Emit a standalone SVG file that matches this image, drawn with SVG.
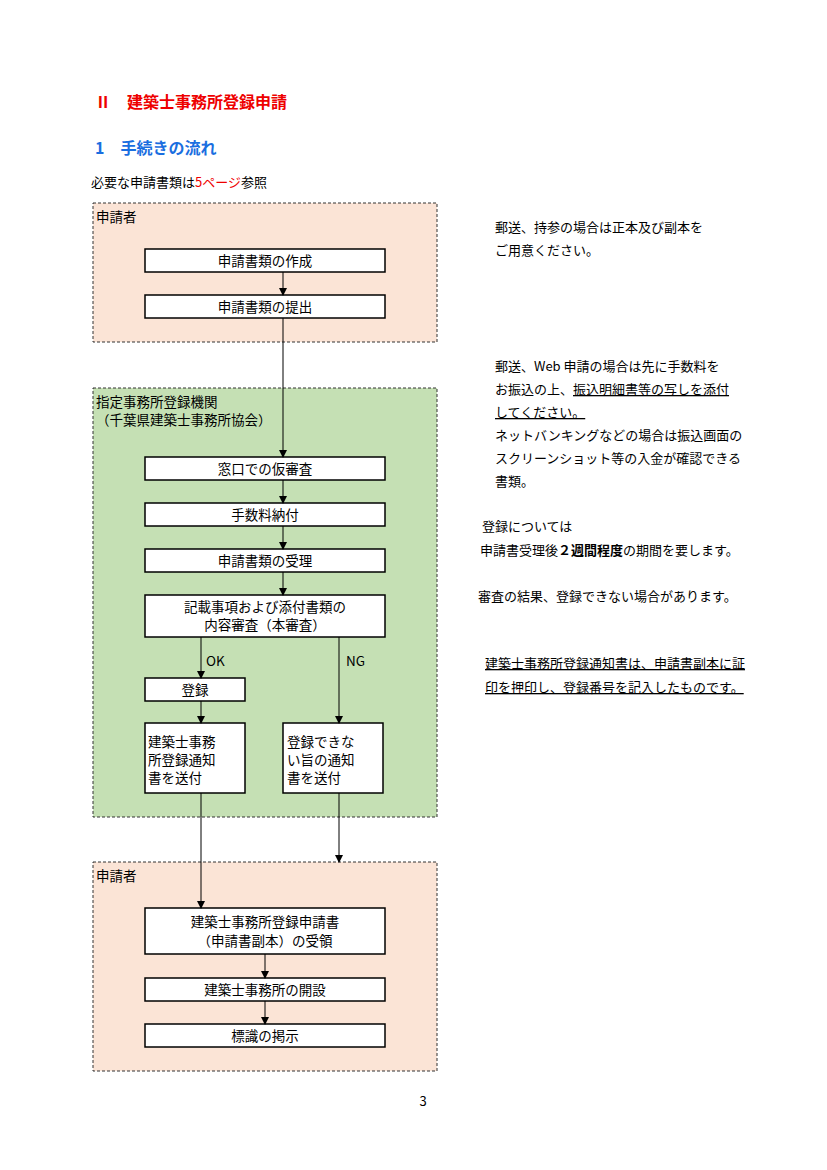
<svg xmlns="http://www.w3.org/2000/svg" width="827" height="1170" viewBox="0 0 827 1170">
<style>
.g{font-family:"Noto Sans CJK JP","Liberation Sans",sans-serif}
.m{font-family:"Noto Sans CJK JP",serif;font-size:13px;fill:#000}
.bx{fill:#fff;stroke:#000;stroke-width:1.5}
.t{font-family:"Noto Sans CJK JP",sans-serif;font-size:13.5px;fill:#000;text-anchor:middle}
.tl{font-family:"Noto Sans CJK JP",sans-serif;font-size:13.5px;fill:#000}
.ln{stroke:#000;stroke-width:1;fill:none;marker-end:url(#a)}
.u{text-decoration:underline}
</style>
<defs><marker id="a" markerWidth="8" markerHeight="8" refX="7" refY="4" orient="auto" markerUnits="userSpaceOnUse"><path d="M0,0L8,4L0,8z" fill="#000"/></marker></defs>
<rect width="827" height="1170" fill="#fff"/>
<text x="95" y="108" class="g" font-size="16" font-weight="bold" fill="#e00">Ⅱ　建築士事務所登録申請</text>
<text x="95" y="154" class="g" font-size="16" font-weight="bold" fill="#1a6ee0">1　手続きの流れ</text>
<text x="91" y="187" class="m">必要な申請書類は<tspan fill="#e00">5ページ</tspan>参照</text>
<g id="lane1"><rect x="93" y="203" width="344" height="139" fill="#fbe4d6" stroke="#333" stroke-dasharray="3,2"/><text x="96" y="222" class="tl" font-size="12.5">申請者</text></g>
<g id="lane2"><rect x="93" y="388" width="344" height="429" fill="#c5e0b4" stroke="#333" stroke-dasharray="3,2"/><text x="96" y="407" class="tl" font-size="12.5">指定事務所登録機関</text><text x="96" y="425" class="tl" font-size="12.5">（千葉県建築士事務所協会）</text></g>
<g id="lane3"><rect x="93" y="862" width="344" height="209" fill="#fbe4d6" stroke="#333" stroke-dasharray="3,2"/><text x="96" y="881" class="tl" font-size="12.5">申請者</text></g>
<g id="n1"><rect class="bx" x="145" y="249" width="240" height="23"/><text class="t" x="265" y="266">申請書類の作成</text></g>
<g id="n2"><rect class="bx" x="145" y="295" width="240" height="23"/><text class="t" x="265" y="312">申請書類の提出</text></g>
<g id="n3"><rect class="bx" x="145" y="457" width="240" height="23"/><text class="t" x="265" y="474">窓口での仮審査</text></g>
<g id="n4"><rect class="bx" x="145" y="503" width="240" height="23"/><text class="t" x="265" y="520">手数料納付</text></g>
<g id="n5"><rect class="bx" x="145" y="549" width="240" height="23"/><text class="t" x="265" y="566">申請書類の受理</text></g>
<g id="n6"><rect class="bx" x="145" y="595" width="240" height="42"/><text class="t" x="265" y="612">記載事項および添付書類の</text><text class="t" x="265" y="630">内容審査（本審査）</text></g>
<g id="n7"><rect class="bx" x="145" y="678" width="100" height="23"/><text class="t" x="195" y="695">登録</text></g>
<g id="n8"><rect class="bx" x="145" y="723" width="100" height="70"/><text class="tl" x="148" y="747">建築士事務</text><text class="tl" x="148" y="765">所登録通知</text><text class="tl" x="148" y="783">書を送付</text></g>
<g id="n9"><rect class="bx" x="283" y="723" width="100" height="70"/><text class="tl" x="287" y="747">登録できな</text><text class="tl" x="287" y="765">い旨の通知</text><text class="tl" x="287" y="783">書を送付</text></g>
<g id="n10"><rect class="bx" x="145" y="908" width="240" height="46"/><text class="t" x="265" y="927">建築士事務所登録申請書</text><text class="t" x="265" y="946">（申請書副本）の受領</text></g>
<g id="n11"><rect class="bx" x="145" y="978" width="240" height="23"/><text class="t" x="265" y="995">建築士事務所の開設</text></g>
<g id="n12"><rect class="bx" x="145" y="1024" width="240" height="23"/><text class="t" x="265" y="1041">標識の掲示</text></g>
<g id="connectors">
<line class="ln" x1="283" y1="272" x2="283" y2="295"/>
<line class="ln" x1="283" y1="318" x2="283" y2="457"/>
<line class="ln" x1="283" y1="480" x2="283" y2="503"/>
<line class="ln" x1="283" y1="526" x2="283" y2="549"/>
<line class="ln" x1="283" y1="572" x2="283" y2="595"/>
<line class="ln" x1="201" y1="637" x2="201" y2="678"/>
<line class="ln" x1="201" y1="701" x2="201" y2="723"/>
<line class="ln" x1="201" y1="793" x2="201" y2="908"/>
<line class="ln" x1="339" y1="637" x2="339" y2="723"/>
<line class="ln" x1="339" y1="793" x2="339" y2="862"/>
<line class="ln" x1="265" y1="954" x2="265" y2="978"/>
<line class="ln" x1="265" y1="1001" x2="265" y2="1024"/>
<text x="206" y="666" class="tl" font-size="14">OK</text>
<text x="346" y="666" class="tl" font-size="14">NG</text>
</g>
<text x="495" y="232" class="m">郵送、持参の場合は正本及び副本を</text>
<text x="495" y="255" class="m">ご用意ください。</text>
<text x="495" y="371" class="m">郵送、Web 申請の場合は先に手数料を</text>
<text x="495" y="394" class="m">お振込の上、<tspan class="u">振込明細書等の写しを添付</tspan></text>
<text x="495" y="417" class="m u">してください。</text>
<text x="495" y="440" class="m">ネットバンキングなどの場合は振込画面の</text>
<text x="495" y="463" class="m">スクリーンショット等の入金が確認できる</text>
<text x="495" y="486" class="m">書類。</text>
<text x="482" y="531" class="m">登録については</text>
<text x="480" y="555" class="m">申請書受理後<tspan font-weight="bold">２週間程度</tspan>の期間を要します。</text>
<text x="478" y="601" class="m">審査の結果、登録できない場合があります。</text>
<text x="485" y="668" class="m u">建築士事務所登録通知書は、申請書副本に証</text>
<text x="485" y="692" class="m u">印を押印し、登録番号を記入したものです。</text>
<text x="423" y="1106" class="m" text-anchor="middle" font-family="Liberation Serif,serif">3</text>
</svg>
